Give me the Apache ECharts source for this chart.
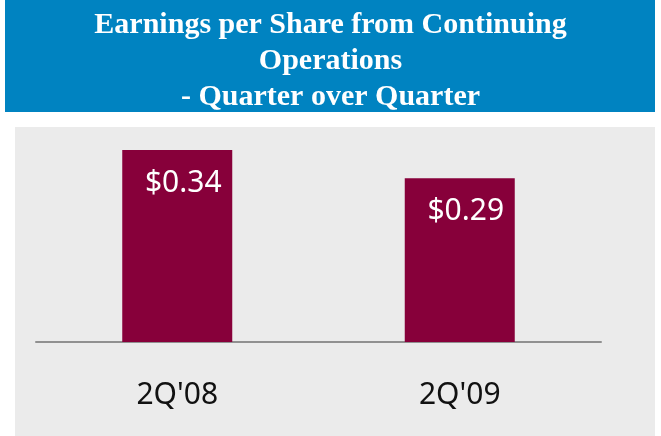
<!DOCTYPE html>
<html>
<head>
<meta charset="utf-8">
<script src="https://cdn.jsdelivr.net/npm/echarts@6/dist/echarts.min.js"></script>
<style>html,body{margin:0;padding:0;background:#fff;}#c{width:661px;height:436px;}</style>
</head>
<body>
<div id="c"></div>
<script>
const titleText = "Earnings per Share from Continuing\nOperations\n- Quarter over Quarter";
const categories = ["2Q'08", "2Q'09"];
const eps = [0.34, 0.29];
const valueLabels = ["$0.34", "$0.29"];

const chart = echarts.init(document.getElementById('c'));
chart.setOption({
  animation: false,
  backgroundColor: '#ffffff',
  graphic: [
    { type: 'rect', z: -10, shape: { x: 5, y: 0, width: 650, height: 112 }, style: { fill: '#0083c1' } },
    { type: 'rect', z: -10, shape: { x: 15, y: 127, width: 640, height: 309 }, style: { fill: '#ebebeb' } }
  ],
  title: {
    text: titleText,
    left: 'center',
    top: 2,
    textStyle: { fontFamily: 'Liberation Serif', fontWeight: 'bold', fontSize: 30, lineHeight: 36, color: '#ffffff' }
  },
  grid: { left: 36, right: 60, top: 150, bottom: 94 },
  xAxis: {
    type: 'category',
    data: categories,
    axisLine: { lineStyle: { color: '#909090', width: 2 } },
    axisTick: { show: false },
    axisLabel: { color: '#111', fontFamily: 'Noto Sans', fontSize: 30, margin: 38 }
  },
  yAxis: { type: 'value', min: 0, max: 0.34, show: false, splitLine: { show: false } },
  series: [{
    type: 'bar',
    data: eps,
    barWidth: 110,
    itemStyle: { color: '#87003a' },
    label: {
      show: true,
      position: 'insideTop',
      distance: 18,
      offset: [6, 0],
      color: '#ffffff',
      fontFamily: 'Noto Sans',
      fontSize: 30,
      formatter: p => valueLabels[p.dataIndex]
    }
  }]
});
</script>
</body>
</html>
